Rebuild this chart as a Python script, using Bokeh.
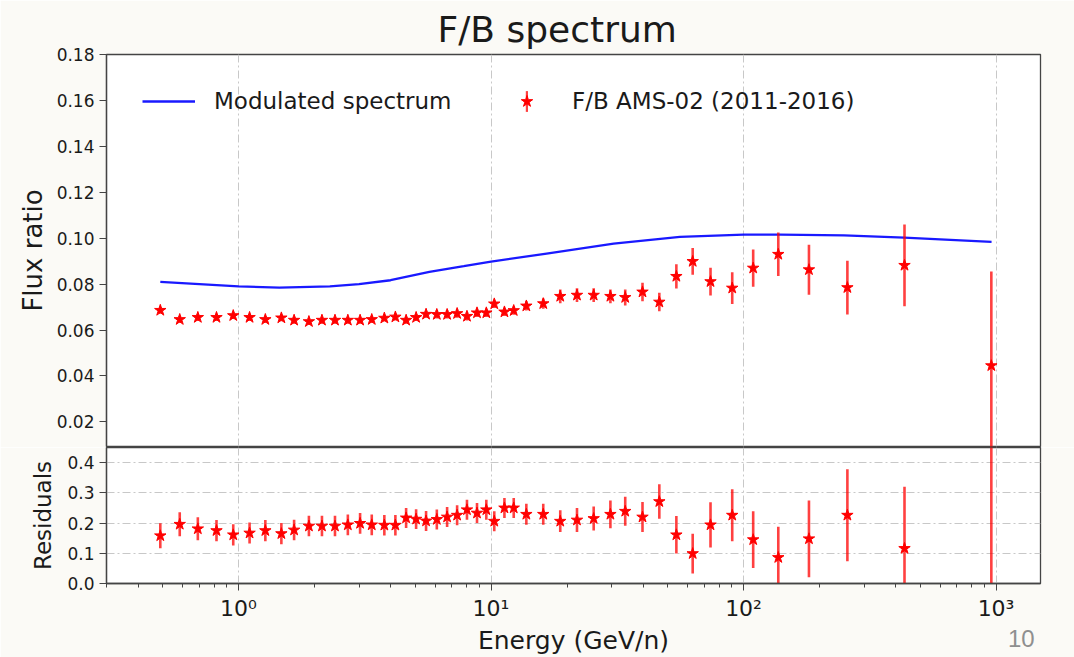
from bokeh.plotting import figure
from bokeh.models import (Range1d, FixedTicker, Legend, LegendItem,
                          NumeralTickFormatter, Div)
from bokeh.layouts import column
from bokeh.embed import file_html
from bokeh.resources import INLINE
import numpy as np

# ---------------- data ----------------
energy = [0.49, 0.585, 0.69, 0.818, 0.953, 1.106, 1.277, 1.478, 1.66, 1.90,
          2.14, 2.41, 2.71, 3.03, 3.37, 3.78, 4.18, 4.61, 5.05, 5.53,
          6.10, 6.70, 7.34, 8.03, 8.80, 9.58, 10.3, 11.3, 12.3, 13.8,
          16.1, 18.8, 21.9, 25.5, 29.7, 34.0, 39.8, 46.4, 54.2, 62.9,
          74.0, 90.2, 109.2, 137.3, 181.6, 257.8, 434.0, 958.0]

ratio = [0.0686, 0.0646, 0.0655, 0.0655, 0.0663, 0.0655, 0.0646, 0.0653, 0.0643, 0.0637,
         0.0643, 0.0643, 0.0643, 0.0643, 0.0646, 0.0652, 0.0657, 0.0643, 0.0655, 0.0669,
         0.0668, 0.0668, 0.0672, 0.0660, 0.0675, 0.0675, 0.0714, 0.0679, 0.0685, 0.0705,
         0.0715, 0.0747, 0.0752, 0.0752, 0.0747, 0.0742, 0.0766, 0.0722, 0.0834, 0.0899,
         0.0811, 0.0783, 0.0870, 0.0930, 0.0863, 0.0785, 0.0882, 0.0445]

ratio_err = [0.0015, 0.0015, 0.0015, 0.0015, 0.0015, 0.0015, 0.0015, 0.0015, 0.0015, 0.0015,
             0.0015, 0.0015, 0.0015, 0.0015, 0.0015, 0.0015, 0.0015, 0.0015, 0.0015, 0.0015,
             0.0018, 0.0018, 0.0018, 0.0018, 0.0018, 0.0018, 0.0018, 0.0018, 0.0018, 0.0020,
             0.0022, 0.0030, 0.0030, 0.0030, 0.0030, 0.0035, 0.0040, 0.0040, 0.0053, 0.0058,
             0.0060, 0.0069, 0.0081, 0.0095, 0.0109, 0.0117, 0.0178, 0.0410]

residual = [0.158, 0.196, 0.181, 0.175, 0.161, 0.167, 0.175, 0.165, 0.177, 0.190,
            0.190, 0.190, 0.194, 0.199, 0.194, 0.193, 0.193, 0.217, 0.213, 0.207,
            0.212, 0.220, 0.226, 0.244, 0.233, 0.244, 0.206, 0.250, 0.250, 0.229,
            0.229, 0.206, 0.210, 0.215, 0.229, 0.239, 0.220, 0.271, 0.161, 0.099,
            0.194, 0.226, 0.145, 0.086, 0.148, 0.226, 0.116, 0.550]

residual_err = [0.041, 0.040, 0.038, 0.035, 0.035, 0.035, 0.035, 0.035, 0.034, 0.034,
                0.034, 0.034, 0.034, 0.034, 0.034, 0.034, 0.034, 0.033, 0.033, 0.033,
                0.033, 0.033, 0.033, 0.033, 0.033, 0.033, 0.033, 0.033, 0.033, 0.035,
                0.035, 0.036, 0.040, 0.040, 0.046, 0.048, 0.050, 0.057, 0.062, 0.066,
                0.075, 0.086, 0.094, 0.102, 0.127, 0.152, 0.204, 0.600]

model_energy = [0.49, 0.7, 1.0, 1.45, 2.3, 3.0, 4.0, 5.7, 7.8, 10.0,
                16.6, 30.6, 56.0, 100.0, 140.0, 250.0, 433.0, 960.0]
model_ratio = [0.0810, 0.0800, 0.0790, 0.0785, 0.0790, 0.0800, 0.0817, 0.0853, 0.0878, 0.0898,
               0.0933, 0.0976, 0.1006, 0.1016, 0.1016, 0.1012, 0.1003, 0.0984]

top_yticks = [0.02, 0.04, 0.06, 0.08, 0.10, 0.12, 0.14, 0.16, 0.18]
res_yticks = [0.0, 0.1, 0.2, 0.3, 0.4]
x_major = [1, 10, 100, 1000]
x_labels = {1: "10\u2070", 10: "10\u00b9", 100: "10\u00b2", 1000: "10\u00b3"}
x_minor = [0.3, 0.4, 0.5, 0.6, 0.7, 0.8, 0.9, 2, 3, 4, 5, 6, 7, 8, 9,
           20, 30, 40, 50, 60, 70, 80, 90, 200, 300, 400, 500, 600, 700, 800, 900]
page_number = "10"

# ---------------- styling ----------------
BG = "#fbfaf6"
FONT = "DejaVu Sans"
TXT = "#1a1a1a"
W = 1074
GRID_DASH = "8 3 2 3"
GRID_COL = "#c8c8c8"

e = np.array(energy)
r = np.array(ratio)
re_ = np.array(ratio_err)
res = np.array(residual)
rese = np.array(residual_err)

xr = Range1d(0.3, 1500)

top = figure(width=W, height=447, x_axis_type="log", x_range=xr,
             y_range=Range1d(0.0093, 0.18), output_backend="svg",
             toolbar_location=None, min_border_left=106, min_border_right=34,
             min_border_top=54, min_border_bottom=1,
             background_fill_color="white", border_fill_color=BG)
top.title.text = "F/B spectrum"
top.title.align = "left"
top.title.offset = 331
top.title.text_font = FONT
top.title.text_font_size = "36px"
top.title.text_font_style = "normal"
top.title.text_color = TXT
top.title.standoff = 9
top.title.text_line_height = 1.0

top.xaxis.visible = False
top.yaxis.ticker = FixedTicker(ticks=top_yticks)
top.yaxis.formatter = NumeralTickFormatter(format="0.00")
top.yaxis.axis_label = "Flux ratio"
top.yaxis.axis_label_text_font = FONT
top.yaxis.axis_label_text_font_size = "26px"
top.yaxis.axis_label_text_font_style = "normal"
top.yaxis.axis_label_text_color = TXT
top.yaxis.axis_label_standoff = 6
top.yaxis.major_label_text_font = FONT
top.yaxis.major_label_text_font_size = "17px"
top.yaxis.major_label_text_color = TXT
top.yaxis.major_label_standoff = 5
top.yaxis.major_tick_out = 7
top.yaxis.major_tick_in = 0
top.yaxis.minor_tick_out = 0
top.yaxis.minor_tick_in = 0
top.yaxis.axis_line_color = "#444444"
top.yaxis.major_tick_line_color = "#444444"
top.yaxis.axis_line_width = 1.3
top.xgrid.ticker = FixedTicker(ticks=x_major)
top.xgrid.grid_line_dash = GRID_DASH
top.xgrid.grid_line_color = GRID_COL
top.ygrid.visible = False
top.outline_line_color = "#444444"
top.outline_line_width = 1.3

line_r = top.line(model_energy, model_ratio, line_color="#0000ff", line_width=2.3, line_alpha=0.9)
top.segment(x0=e, y0=r - re_, x1=e, y1=r + re_, line_color="#ff0000",
            line_width=2.6, line_alpha=0.75)
# zero-width bars: invisible in the plot, they give the legend its error-bar symbol
bar_r = top.vbar(x=e, width=0, top=r + re_, bottom=r - re_, fill_color="#ff0000",
                 fill_alpha=0.75, line_color=None)
star_r = top.scatter(e, r, marker="star", size=12, fill_color="#ff0000",
                     line_color="#ff0000")

leg1 = Legend(items=[LegendItem(label="Modulated spectrum", renderers=[line_r])],
              location=(36, 330))
leg_bar = Legend(items=[LegendItem(label=" ", renderers=[bar_r])],
                 location=(419, 332))
leg2 = Legend(items=[LegendItem(label="F/B AMS-02 (2011-2016)", renderers=[star_r])],
              location=(394, 330))
for lg in (leg1, leg_bar, leg2):
    lg.glyph_width = 53
    lg.glyph_height = 30
    lg.label_standoff = 19
    lg.padding = 0
    lg.margin = 0
    lg.spacing = 0
    lg.border_line_color = None
    lg.background_fill_alpha = 0
    lg.label_text_font = FONT
    lg.label_text_font_size = "23px"
    lg.label_text_color = TXT
leg_bar.glyph_width = 3
leg_bar.glyph_height = 26
leg_bar.label_standoff = 0
leg_bar.label_text_font_size = "1px"
leg_bar.label_height = 1
for lg in (leg1, leg_bar, leg2):
    top.add_layout(lg, "center")

bot = figure(width=W, height=210, x_axis_type="log", x_range=xr,
             y_range=Range1d(0.0, 0.45), output_backend="svg",
             toolbar_location=None, min_border_left=106, min_border_right=34,
             min_border_top=0, min_border_bottom=72,
             background_fill_color="white", border_fill_color=BG)
bot.xaxis.ticker = FixedTicker(ticks=x_major, minor_ticks=x_minor)
bot.xaxis.major_label_overrides = x_labels
bot.xaxis.axis_label = "Energy (GeV/n)"
bot.xaxis.axis_label_text_font = FONT
bot.xaxis.axis_label_text_font_size = "25px"
bot.xaxis.axis_label_text_font_style = "normal"
bot.xaxis.axis_label_text_color = TXT
bot.xaxis.axis_label_standoff = 2
bot.xaxis.major_label_text_font = FONT
bot.xaxis.major_label_text_font_size = "22px"
bot.xaxis.major_label_text_color = TXT
bot.xaxis.major_label_standoff = 5
bot.xaxis.major_tick_out = 7
bot.xaxis.major_tick_in = 0
bot.xaxis.minor_tick_out = 4
bot.xaxis.minor_tick_in = 0

bot.yaxis.ticker = FixedTicker(ticks=res_yticks)
bot.yaxis.formatter = NumeralTickFormatter(format="0.0")
bot.yaxis.axis_label = "Residuals"
bot.yaxis.axis_label_text_font = FONT
bot.yaxis.axis_label_text_font_size = "23px"
bot.yaxis.axis_label_text_font_style = "normal"
bot.yaxis.axis_label_text_color = TXT
bot.yaxis.axis_label_standoff = 8
bot.yaxis.major_label_text_font = FONT
bot.yaxis.major_label_text_font_size = "17px"
bot.yaxis.major_label_text_color = TXT
bot.yaxis.major_label_standoff = 5
bot.yaxis.major_tick_out = 7
bot.yaxis.major_tick_in = 0
bot.yaxis.minor_tick_out = 0
bot.yaxis.minor_tick_in = 0
for ax in (bot.xaxis, bot.yaxis):
    ax.axis_line_color = "#444444"
    ax.major_tick_line_color = "#444444"
    ax.minor_tick_line_color = "#444444"
    ax.axis_line_width = 1.3

bot.xgrid.ticker = FixedTicker(ticks=x_major)
bot.ygrid.ticker = FixedTicker(ticks=res_yticks)
for g in (bot.xgrid, bot.ygrid):
    g.grid_line_dash = GRID_DASH
    g.grid_line_color = GRID_COL
bot.outline_line_color = "#444444"
bot.outline_line_width = 1.3

bot.segment(x0=e, y0=res - rese, x1=e, y1=res + rese, line_color="#ff0000",
            line_width=2.6, line_alpha=0.75)
bot.scatter(e, res, marker="star", size=12, fill_color="#ff0000", line_color="#ff0000")

# slide page number, positioned over the lower-right corner of the page
page = Div(text=page_number, width=40, height=30,
           styles={"position": "absolute", "left": "1008px", "top": "622px",
                   "color": "#8f8f8f", "font-family": "Liberation Sans",
                   "font-size": "24px", "margin": "0", "z-index": "10"})

layout = column(top, bot, page, spacing=0)
open("out.html", "w").write(file_html(layout, INLINE))
